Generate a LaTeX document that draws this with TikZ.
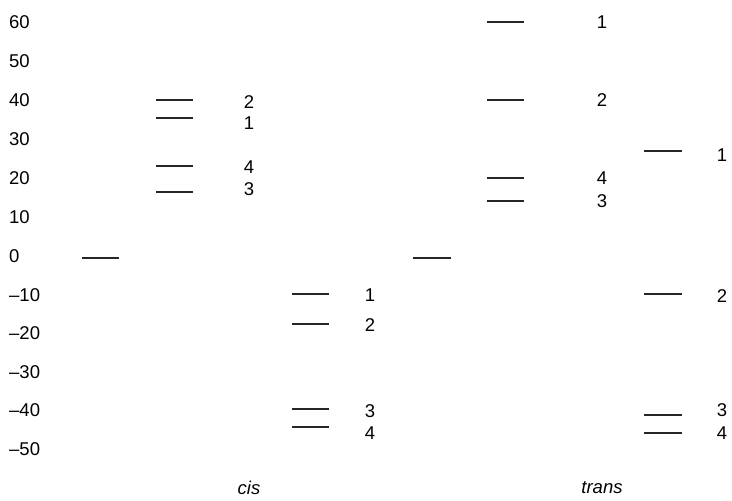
\documentclass[tikz,border=0pt]{standalone}
\usepackage{fontspec}
\setmainfont{Liberation Sans}
\begin{document}
\begin{tikzpicture}[x=1pt,y=-1pt,
  every node/.style={font=\fontsize{18.5}{22}\selectfont, inner sep=0pt},
  axislab/.style={anchor=west},
  level/.style={line width=1.2pt, draw=black!85},
  lvllab/.style={anchor=center},
  grouplab/.style={font=\fontsize{18.5}{22}\selectfont\itshape}]
\useasboundingbox (0,0) rectangle (732,501);
% axis labels
\node[axislab] (t60) at (9,22) {60};
\node[axislab] (t50) at (9,61) {50};
\node[axislab] (t40) at (9,100) {40};
\node[axislab] (t30) at (9,139) {30};
\node[axislab] (t20) at (9,178) {20};
\node[axislab] (t10) at (9,217) {10};
\node[axislab] (t0) at (9,256) {0};
\node[axislab] (tm10) at (9,295) {–10};
\node[axislab] (tm20) at (9,333) {–20};
\node[axislab] (tm30) at (9,372) {–30};
\node[axislab] (tm40) at (9,410) {–40};
\node[axislab] (tm50) at (9,449) {–50};
% cis
\draw[level] (82,258) -- (119,258);
\draw[level] (156,100) -- (193,100);
\draw[level] (156,118) -- (193,118);
\draw[level] (156,166) -- (193,166);
\draw[level] (156,192) -- (193,192);
\node[lvllab] (ca2) at (249,102) {2};
\node[lvllab] (ca1) at (249,123) {1};
\node[lvllab] (ca4) at (249,167) {4};
\node[lvllab] (ca3) at (249,189) {3};
\draw[level] (292,294) -- (329,294);
\draw[level] (292,324) -- (329,324);
\draw[level] (292,409) -- (329,409);
\draw[level] (292,427) -- (329,427);
\node[lvllab] (cb1) at (370,295) {1};
\node[lvllab] (cb2) at (370,325) {2};
\node[lvllab] (cb3) at (370,411) {3};
\node[lvllab] (cb4) at (370,433) {4};
% trans
\draw[level] (413,258) -- (451,258);
\draw[level] (487,22) -- (524,22);
\draw[level] (487,100) -- (524,100);
\draw[level] (487,178) -- (524,178);
\draw[level] (487,201) -- (524,201);
\node[lvllab] (ta1) at (602,22) {1};
\node[lvllab] (ta2) at (602,100) {2};
\node[lvllab] (ta4) at (602,178) {4};
\node[lvllab] (ta3) at (602,201) {3};
\draw[level] (644,151) -- (682,151);
\draw[level] (644,294) -- (682,294);
\draw[level] (644,415) -- (682,415);
\draw[level] (644,433) -- (682,433);
\node[lvllab] (tb1) at (722,155) {1};
\node[lvllab] (tb2) at (722,296) {2};
\node[lvllab] (tb3) at (722,410) {3};
\node[lvllab] (tb4) at (722,433) {4};
% group labels
\node[grouplab] (cis) at (249,488) {cis};
\node[grouplab] (trans) at (602,488) {trans};
\end{tikzpicture}
\end{document}
